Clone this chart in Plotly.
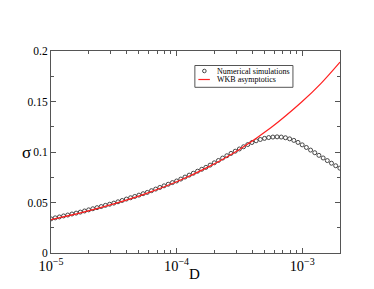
import plotly.graph_objects as go

# ---- data ----
# WKB asymptotics (red line), D values and sigma
wkb_D = [1e-5, 1.778e-5, 3.162e-5, 5.623e-5, 1e-4, 1.778e-4, 3.162e-4,
         5.623e-4, 1e-3, 1.413e-3, 2e-3]
wkb_sigma = [0.0330, 0.0402, 0.0486, 0.0585, 0.0705, 0.0850, 0.1025,
             0.1240, 0.1500, 0.1680, 0.1890]

# Numerical simulations (open circles): sample points, 30 per decade
mantissas = [1.000, 1.080, 1.166, 1.259, 1.359, 1.468, 1.585, 1.711, 1.848, 1.995,
             2.154, 2.326, 2.512, 2.712, 2.929, 3.162, 3.415, 3.687, 3.981, 4.299,
             4.642, 5.012, 5.412, 5.843, 6.310, 6.813, 7.356, 7.943, 8.577, 9.261]
sim_D = ([m * 1e-5 for m in mantissas] + [m * 1e-4 for m in mantissas]
         + [m * 1e-3 for m in mantissas[:10]])
sim_sigma = [0.0338, 0.0348, 0.0357, 0.0367, 0.0376, 0.0386, 0.0395, 0.0405, 0.0416, 0.0427,
             0.0438, 0.0449, 0.0460, 0.0472, 0.0483, 0.0494, 0.0507, 0.0520, 0.0534, 0.0547,
             0.0560, 0.0573, 0.0587, 0.0600, 0.0617, 0.0633, 0.0649, 0.0665, 0.0681, 0.0697,
             0.0713, 0.0732, 0.0752, 0.0771, 0.0790, 0.0810, 0.0829, 0.0848, 0.0870, 0.0893,
             0.0916, 0.0940, 0.0963, 0.0986, 0.1008, 0.1030, 0.1052, 0.1074, 0.1094, 0.1111,
             0.1124, 0.1135, 0.1143, 0.1148, 0.1150, 0.1148, 0.1141, 0.1130, 0.1115, 0.1095,
             0.1071, 0.1045, 0.1019, 0.0993, 0.0967, 0.0941, 0.0915, 0.0889, 0.0864, 0.0840]

y_ticks = [0, 0.05, 0.1, 0.15, 0.2]
y_tick_labels = ["0", "0.05", "0.1", "0.15", "0.2"]
legend_labels = ["Numerical simulations", "WKB asymptotics"]

FONT = "Liberation Serif, Times New Roman, serif"
AXC = "#555555"
CIRC = "#333333"
RED = "#ff2020"

fig = go.Figure()
fig.add_trace(go.Scatter(
    x=sim_D, y=sim_sigma, mode="markers", name=legend_labels[0],
    marker=dict(symbol="circle-open", size=4, color=CIRC, line=dict(width=0.9)),
    showlegend=False,
))
fig.add_trace(go.Scatter(
    x=wkb_D, y=wkb_sigma, mode="lines", name=legend_labels[1],
    line=dict(color=RED, width=1.2, shape="spline"),
    showlegend=False,
))

fig.update_layout(
    width=374, height=289,
    margin=dict(l=43, r=42, t=43, b=44),
    paper_bgcolor="white", plot_bgcolor="white",
    font=dict(family=FONT, size=11, color="black"),
    showlegend=False,
)

fig.update_xaxes(
    type="log", range=[-5, -2.69897],
    showline=True, linecolor=AXC, linewidth=1, mirror="ticks",
    ticks="inside", ticklen=5, tickcolor=AXC, tickwidth=1,
    dtick=1, exponentformat="power", showexponent="all",
    showgrid=False, zeroline=False,
    minor=dict(ticks="inside", ticklen=3, tickcolor=AXC, dtick="D1", showgrid=False),
    tickfont=dict(family=FONT, size=11.5, color="black"),
)
fig.update_yaxes(
    range=[0, 0.2],
    showline=True, linecolor=AXC, linewidth=1, mirror="ticks",
    ticks="inside", ticklen=5, tickcolor=AXC, tickwidth=1,
    tickvals=y_ticks, ticktext=y_tick_labels,
    showgrid=False, zeroline=False,
    minor=dict(ticks="inside", ticklen=3, tickcolor=AXC, dtick=0.025, showgrid=False),
    tickfont=dict(family=FONT, size=11.5, color="black"),
)

# axis titles
fig.add_annotation(text="σ", xref="paper", yref="paper", x=-0.107, y=0.5,
                   showarrow=False, font=dict(family=FONT, size=17, color="black"))
fig.add_annotation(text="D", xref="paper", yref="paper", x=0.498, y=-0.155,
                   showarrow=False, font=dict(family=FONT, size=15, color="black"))

# legend box (drawn like the reference's compact legend)
fig.add_shape(type="rect", xref="paper", yref="paper",
              x0=0.4978, x1=0.8372, y0=0.8203, y1=0.9282,
              line=dict(color=AXC, width=1), fillcolor="white", layer="above")
fig.add_shape(type="circle", xref="paper", yref="paper",
              x0=0.5307 - 0.0062, x1=0.5307 + 0.0062, y0=0.901 - 0.0089, y1=0.901 + 0.0089,
              line=dict(color=CIRC, width=0.9), layer="above")
fig.add_shape(type="line", xref="paper", yref="paper",
              x0=0.5099, x1=0.5497, y0=0.8589, y1=0.8589,
              line=dict(color=RED, width=1.2), layer="above")
fig.add_annotation(text=legend_labels[0], xref="paper", yref="paper",
                   x=0.5688, y=0.8995, xanchor="left", yanchor="middle",
                   showarrow=False, font=dict(family=FONT, size=8, color="black"))
fig.add_annotation(text=legend_labels[1], xref="paper", yref="paper",
                   x=0.5688, y=0.858, xanchor="left", yanchor="middle",
                   showarrow=False, font=dict(family=FONT, size=8, color="black"))

fig.write_html("out.html")
